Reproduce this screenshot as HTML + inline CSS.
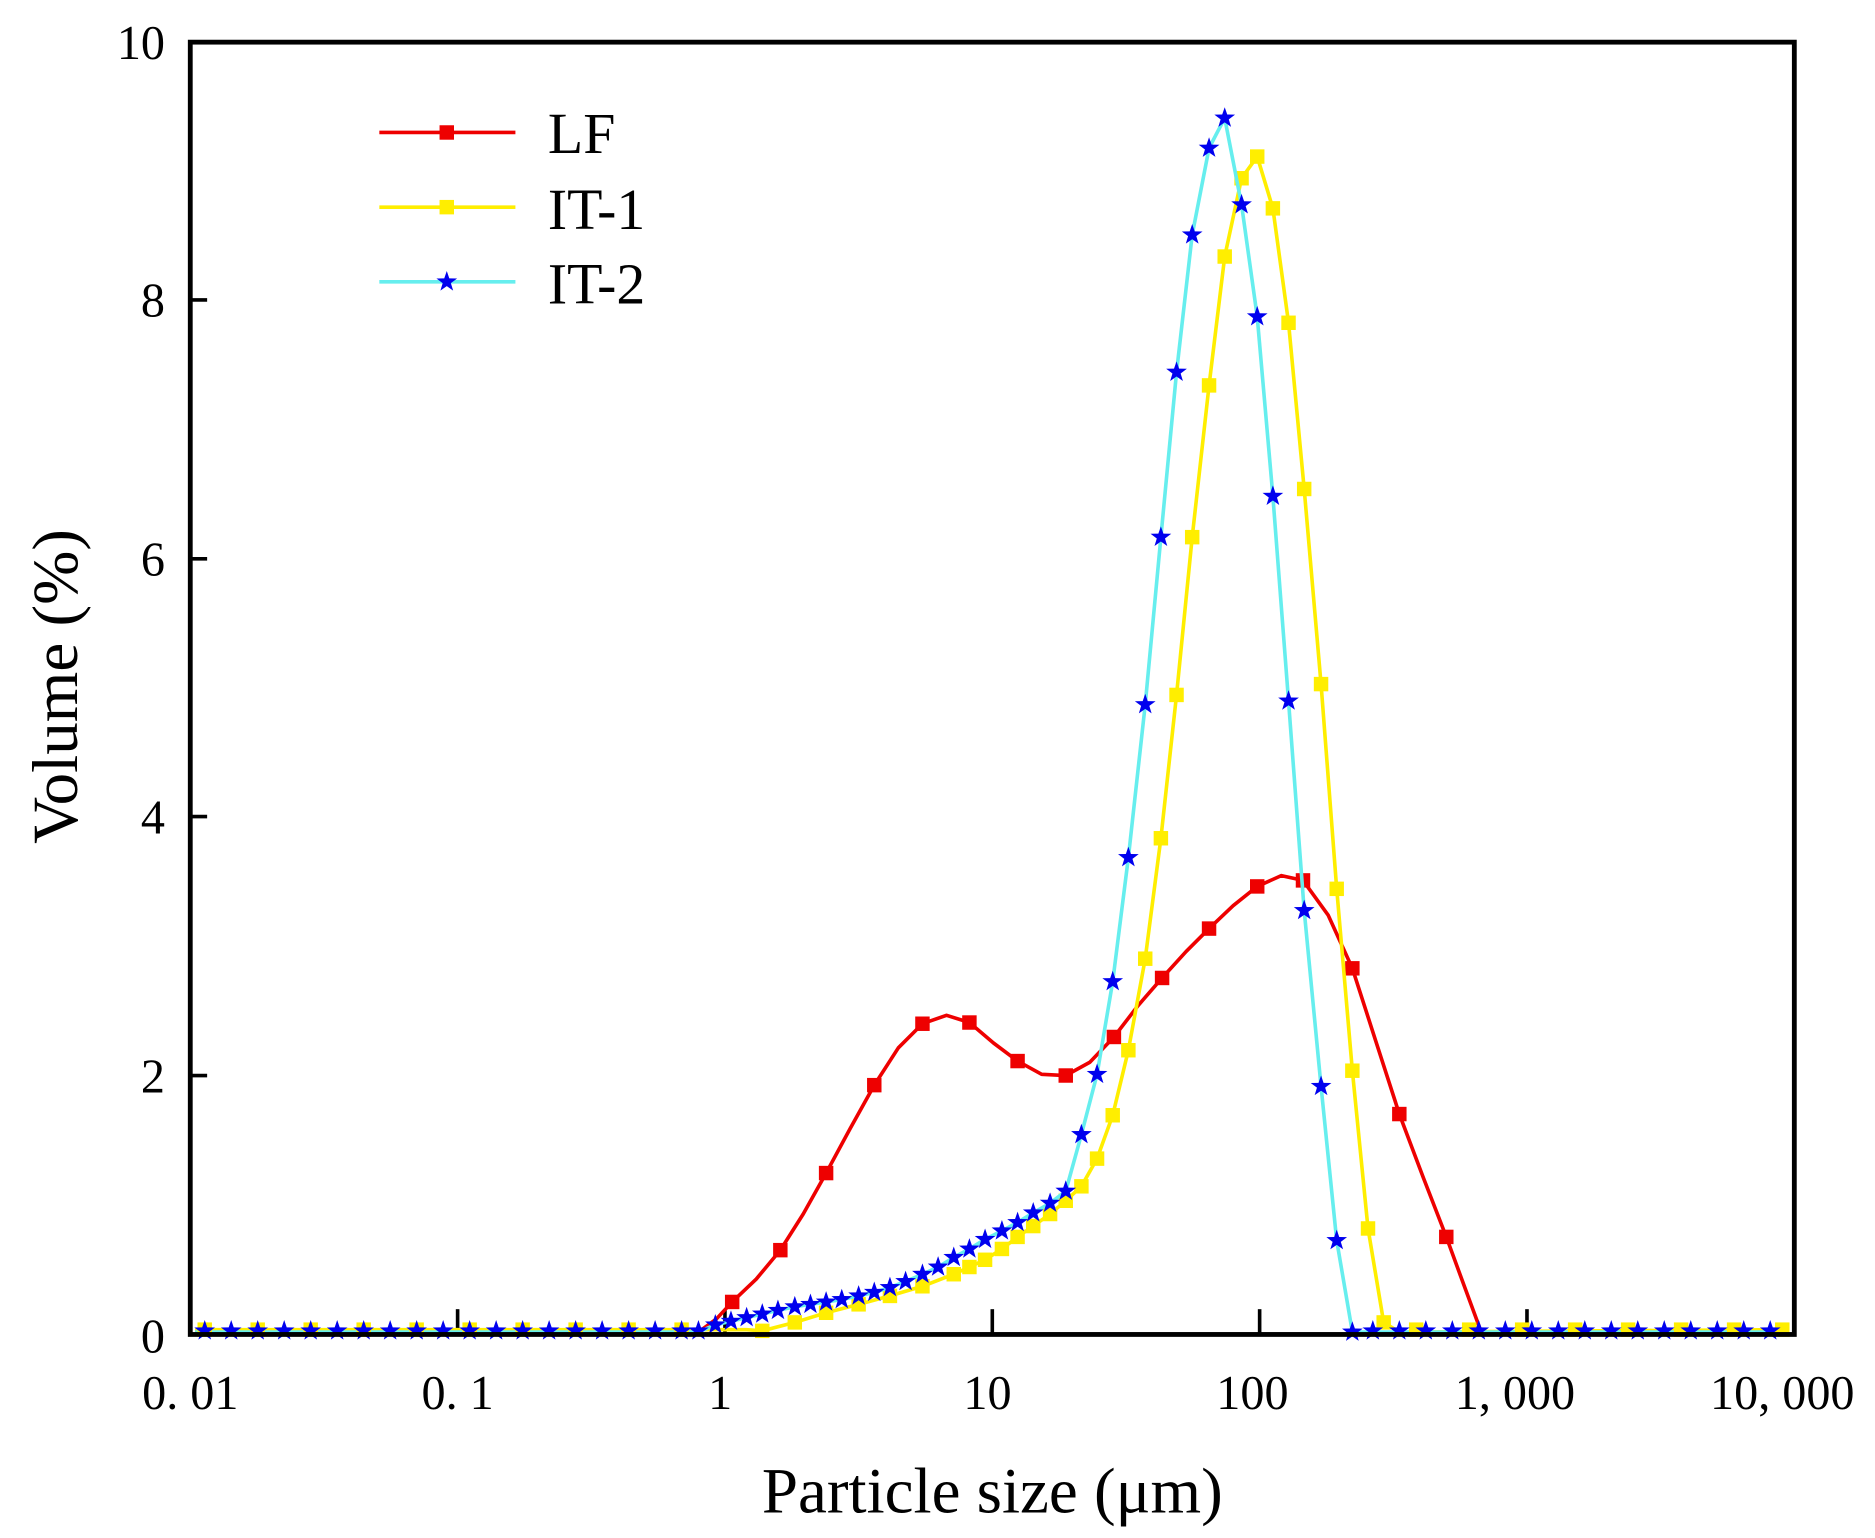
<!DOCTYPE html>
<html><head><meta charset="utf-8"><style>html,body{margin:0;padding:0;background:#fff}svg{display:block}</style></head>
<body>
<svg width="1875" height="1538" viewBox="0 0 1557 1277" preserveAspectRatio="none" xmlns="http://www.w3.org/2000/svg" font-family="Liberation Serif, serif">
<defs>
<rect id="sqr" x="-6" y="-6" width="12" height="12" fill="#e00"/>
<rect id="sqy" x="-6" y="-6" width="12" height="12" fill="#ffee00"/>
<polygon id="st" points="0,-9 2.1,-2.9 8.6,-2.8 3.4,1.1 5.3,7.3 0,3.6 -5.3,7.3 -3.4,1.1 -8.6,-2.8 -2.1,-2.9" fill="#0000ee"/>
</defs>
<rect width="1557" height="1277" fill="#fff"/>
<g stroke="#000" stroke-width="3">
<line x1="380" y1="1108" x2="380" y2="1087"/><line x1="602" y1="1108" x2="602" y2="1087"/><line x1="824" y1="1108" x2="824" y2="1087"/><line x1="1046" y1="1108" x2="1046" y2="1087"/><line x1="1268" y1="1108" x2="1268" y2="1087"/>
<line x1="158" y1="893" x2="172" y2="893"/><line x1="158" y1="678" x2="172" y2="678"/><line x1="158" y1="464" x2="172" y2="464"/><line x1="158" y1="249" x2="172" y2="249"/>
</g>
<polyline fill="none" stroke="#e00" stroke-width="3" stroke-linejoin="round" points="162,1106 580,1106 595,1095 608,1081 628,1062 648,1038 667,1008 686,974 706,937 726,901 746,870 766,850 786,843 805,849 825,866 845,881 865,892 885,893 905,882 925,861 945,835 965,812 985,790 1004,771 1024,752 1044,736 1064,727 1082,731 1103,760 1123,804 1142,863 1162,925 1182,978 1201,1027 1216,1068 1230,1106 1486,1106"/>
<g>
<use href="#sqr" x="608" y="1081"/><use href="#sqr" x="648" y="1038"/><use href="#sqr" x="686" y="974"/><use href="#sqr" x="726" y="901"/><use href="#sqr" x="766" y="850"/><use href="#sqr" x="805" y="849"/><use href="#sqr" x="845" y="881"/><use href="#sqr" x="885" y="893"/><use href="#sqr" x="925" y="861"/><use href="#sqr" x="965" y="812"/><use href="#sqr" x="1004" y="771"/><use href="#sqr" x="1044" y="736"/><use href="#sqr" x="1082" y="731"/><use href="#sqr" x="1123" y="804"/><use href="#sqr" x="1162" y="925"/><use href="#sqr" x="1201" y="1027"/>
</g>
<polyline fill="none" stroke="#ffee00" stroke-width="3" stroke-linejoin="round" points="162,1104 620,1104 633,1105 660,1098 686,1090 713,1083 739,1076 766,1068 792,1058 805,1052 818,1046 832,1037 845,1027 858,1018 872,1008 885,997 898,985 911,962 924,926 937,872 951,796 964,696 977,577 990,446 1004,320 1017,213 1031,148 1044,130 1057,173 1070,268 1083,406 1097,568 1110,738 1123,889 1136,1020 1149,1098 1162,1106 1486,1104"/>
<g>
<use href="#sqy" x="633" y="1105"/><use href="#sqy" x="660" y="1098"/><use href="#sqy" x="686" y="1090"/><use href="#sqy" x="713" y="1083"/><use href="#sqy" x="739" y="1076"/><use href="#sqy" x="766" y="1068"/><use href="#sqy" x="792" y="1058"/><use href="#sqy" x="805" y="1052"/><use href="#sqy" x="818" y="1046"/><use href="#sqy" x="832" y="1037"/><use href="#sqy" x="845" y="1027"/><use href="#sqy" x="858" y="1018"/><use href="#sqy" x="872" y="1008"/><use href="#sqy" x="885" y="997"/><use href="#sqy" x="898" y="985"/><use href="#sqy" x="911" y="962"/><use href="#sqy" x="924" y="926"/><use href="#sqy" x="937" y="872"/><use href="#sqy" x="951" y="796"/><use href="#sqy" x="964" y="696"/><use href="#sqy" x="977" y="577"/><use href="#sqy" x="990" y="446"/><use href="#sqy" x="1004" y="320"/><use href="#sqy" x="1017" y="213"/><use href="#sqy" x="1031" y="148"/><use href="#sqy" x="1044" y="130"/><use href="#sqy" x="1057" y="173"/><use href="#sqy" x="1070" y="268"/><use href="#sqy" x="1083" y="406"/><use href="#sqy" x="1097" y="568"/><use href="#sqy" x="1110" y="738"/><use href="#sqy" x="1123" y="889"/><use href="#sqy" x="1136" y="1020"/><use href="#sqy" x="1149" y="1098"/>
</g>
<polyline fill="none" stroke="#66eeee" stroke-width="3" stroke-linejoin="round" points="162,1106 580,1106 594,1100 607,1097 620,1094 633,1091 646,1088 660,1085 673,1083 686,1081 699,1079 713,1076 726,1073 739,1069 752,1064 766,1058 779,1052 792,1044 805,1037 818,1029 832,1022 845,1015 858,1007 872,999 885,989 898,942 911,892 924,815 937,712 951,585 964,446 977,309 990,195 1004,123 1017,98 1031,170 1044,263 1057,412 1070,582 1083,756 1097,902 1110,1030 1123,1106 1486,1106"/>
<g>
<use href="#st" x="594" y="1100"/><use href="#st" x="607" y="1097"/><use href="#st" x="620" y="1094"/><use href="#st" x="633" y="1091"/><use href="#st" x="646" y="1088"/><use href="#st" x="660" y="1085"/><use href="#st" x="673" y="1083"/><use href="#st" x="686" y="1081"/><use href="#st" x="699" y="1079"/><use href="#st" x="713" y="1076"/><use href="#st" x="726" y="1073"/><use href="#st" x="739" y="1069"/><use href="#st" x="752" y="1064"/><use href="#st" x="766" y="1058"/><use href="#st" x="779" y="1052"/><use href="#st" x="792" y="1044"/><use href="#st" x="805" y="1037"/><use href="#st" x="818" y="1029"/><use href="#st" x="832" y="1022"/><use href="#st" x="845" y="1015"/><use href="#st" x="858" y="1007"/><use href="#st" x="872" y="999"/><use href="#st" x="885" y="989"/><use href="#st" x="898" y="942"/><use href="#st" x="911" y="892"/><use href="#st" x="924" y="815"/><use href="#st" x="937" y="712"/><use href="#st" x="951" y="585"/><use href="#st" x="964" y="446"/><use href="#st" x="977" y="309"/><use href="#st" x="990" y="195"/><use href="#st" x="1004" y="123"/><use href="#st" x="1017" y="98"/><use href="#st" x="1031" y="170"/><use href="#st" x="1044" y="263"/><use href="#st" x="1057" y="412"/><use href="#st" x="1070" y="582"/><use href="#st" x="1083" y="756"/><use href="#st" x="1097" y="902"/><use href="#st" x="1110" y="1030"/><use href="#st" x="1123" y="1106"/>
</g>
<g>
<use href="#sqy" x="170" y="1104"/><use href="#sqy" x="214" y="1104"/><use href="#sqy" x="258" y="1104"/><use href="#sqy" x="302" y="1104"/><use href="#sqy" x="346" y="1104"/><use href="#sqy" x="390" y="1104"/><use href="#sqy" x="434" y="1104"/><use href="#sqy" x="478" y="1104"/><use href="#sqy" x="522" y="1104"/><use href="#sqy" x="566" y="1104"/>
<use href="#sqy" x="1176" y="1104"/><use href="#sqy" x="1220" y="1104"/><use href="#sqy" x="1264" y="1104"/><use href="#sqy" x="1308" y="1104"/><use href="#sqy" x="1352" y="1104"/><use href="#sqy" x="1396" y="1104"/><use href="#sqy" x="1440" y="1104"/><use href="#sqy" x="1480" y="1104"/>
<use href="#st" x="170" y="1105"/><use href="#st" x="192" y="1105"/><use href="#st" x="214" y="1105"/><use href="#st" x="236" y="1105"/><use href="#st" x="258" y="1105"/><use href="#st" x="280" y="1105"/><use href="#st" x="302" y="1105"/><use href="#st" x="324" y="1105"/><use href="#st" x="346" y="1105"/><use href="#st" x="368" y="1105"/><use href="#st" x="390" y="1105"/><use href="#st" x="412" y="1105"/><use href="#st" x="434" y="1105"/><use href="#st" x="456" y="1105"/><use href="#st" x="478" y="1105"/><use href="#st" x="500" y="1105"/><use href="#st" x="522" y="1105"/><use href="#st" x="544" y="1105"/><use href="#st" x="566" y="1105"/><use href="#st" x="580" y="1105"/>
<use href="#st" x="1140" y="1105"/><use href="#st" x="1162" y="1105"/><use href="#st" x="1184" y="1105"/><use href="#st" x="1206" y="1105"/><use href="#st" x="1228" y="1105"/><use href="#st" x="1250" y="1105"/><use href="#st" x="1272" y="1105"/><use href="#st" x="1294" y="1105"/><use href="#st" x="1316" y="1105"/><use href="#st" x="1338" y="1105"/><use href="#st" x="1360" y="1105"/><use href="#st" x="1382" y="1105"/><use href="#st" x="1404" y="1105"/><use href="#st" x="1426" y="1105"/><use href="#st" x="1448" y="1105"/><use href="#st" x="1470" y="1105"/>
</g>
<rect x="158" y="35" width="1332" height="1073" fill="none" stroke="#000" stroke-width="4"/>
<line x1="315" y1="110" x2="428" y2="110" stroke="#e00" stroke-width="3"/><use href="#sqr" x="371" y="110"/>
<line x1="315" y1="172" x2="428" y2="172" stroke="#ffee00" stroke-width="3"/><use href="#sqy" x="371" y="172"/>
<line x1="315" y1="234" x2="428" y2="234" stroke="#66eeee" stroke-width="3"/><use href="#st" x="371" y="234"/>
<g font-size="48" fill="#000">
<text x="455" y="127">LF</text><text x="455" y="190">IT-1</text><text x="455" y="252">IT-2</text>
</g>
<g font-size="40" fill="#000" text-anchor="end">
<text x="137" y="1123">0</text><text x="137" y="907">2</text><text x="137" y="692">4</text><text x="137" y="478">6</text><text x="137" y="263">8</text><text x="137" y="49">10</text>
</g>
<g font-size="40" fill="#000" text-anchor="middle">
<text x="158" y="1170">0. 01</text><text x="380" y="1170">0. 1</text><text x="598" y="1170">1</text><text x="820" y="1170">10</text><text x="1040" y="1170">100</text><text x="1258" y="1170">1, 000</text><text x="1480" y="1170">10, 000</text>
</g>
<text x="824" y="1256" font-size="54" text-anchor="middle">Particle size (μm)</text>
<text transform="translate(64,570) rotate(-90)" font-size="54" text-anchor="middle">Volume (%)</text>
</svg>
</body></html>
